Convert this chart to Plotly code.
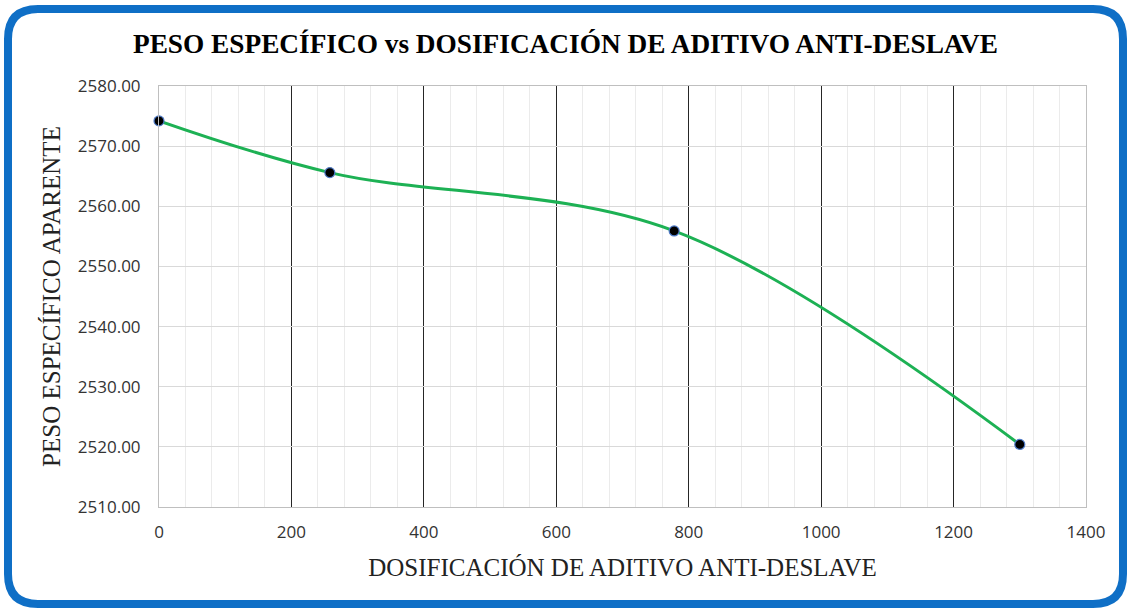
import plotly.graph_objects as go

# Dosificación de aditivo anti-deslave vs peso específico aparente
dosificacion = [0, 258, 778, 1300]
peso_especifico = [2574.2, 2565.6, 2555.9, 2520.4]

x_ticks = [0, 200, 400, 600, 800, 1000, 1200, 1400]
y_ticks = [2510, 2520, 2530, 2540, 2550, 2560, 2570, 2580]

W, H = 1131, 610
ML, MR, MT, MB = 159, 45, 86, 103
PW, PH = W - ML - MR, H - MT - MB


def px_to_paper(x, y):
    return (x - ML) / PW, (H - MB - y) / PH


def rounded_rect_path(x0, y0, x1, y1, r):
    pts = []

    def P(x, y):
        px, py = px_to_paper(x, y)
        return f"{px:.5f},{py:.5f}"

    pts.append(f"M{P(x0 + r, y0)}")
    pts.append(f"L{P(x1 - r, y0)}")
    pts.append(f"Q{P(x1, y0)} {P(x1, y0 + r)}")
    pts.append(f"L{P(x1, y1 - r)}")
    pts.append(f"Q{P(x1, y1)} {P(x1 - r, y1)}")
    pts.append(f"L{P(x0 + r, y1)}")
    pts.append(f"Q{P(x0, y1)} {P(x0, y1 - r)}")
    pts.append(f"L{P(x0, y0 + r)}")
    pts.append(f"Q{P(x0, y0)} {P(x0 + r, y0)}")
    pts.append("Z")
    return " ".join(pts)


fig = go.Figure()
fig.add_trace(go.Scatter(
    x=dosificacion,
    y=peso_especifico,
    mode="lines+markers",
    line=dict(color="#1DB154", width=3, shape="spline", smoothing=1.0),
    marker=dict(color="#000000", size=10, line=dict(color="#4F7BC8", width=1.2)),
    showlegend=False,
    cliponaxis=False,
))

serif = "Liberation Serif, Times New Roman, serif"
sans = "Open Sans, Liberation Sans, sans-serif"

fig.update_layout(
    width=W, height=H,
    margin=dict(l=ML, r=MR, t=MT, b=MB),
    paper_bgcolor="white",
    plot_bgcolor="white",
    title=dict(
        text="<b>PESO ESPECÍFICO vs DOSIFICACIÓN DE ADITIVO ANTI-DESLAVE</b>",
        font=dict(family=serif, size=27.3, color="#000000"),
        x=0.5, xref="container", xanchor="center",
        y=1 - 43 / H, yref="container", yanchor="middle",
    ),
    xaxis=dict(
        range=[0, 1400],
        tickvals=x_ticks,
        ticktext=[str(v) for v in x_ticks],
        showgrid=True, gridcolor="#262626", gridwidth=1,
        minor=dict(dtick=40, showgrid=True, gridcolor="#EBEBEB", gridwidth=1),
        showline=True, linecolor="#BFBFBF", linewidth=1, mirror=True,
        zeroline=False,
        ticks="", ticklabelstandoff=10,
        tickfont=dict(family=sans, size=17, color="#333333"),
        title=dict(text="DOSIFICACIÓN DE ADITIVO ANTI-DESLAVE",
                   font=dict(family=serif, size=25, color="#222222"),
                   standoff=16),
    ),
    yaxis=dict(
        range=[2510, 2580],
        tickvals=y_ticks,
        ticktext=[f"{v:.2f}" for v in y_ticks],
        showgrid=True, gridcolor="#D9D9D9", gridwidth=1,
        showline=True, linecolor="#BFBFBF", linewidth=1, mirror=True,
        zeroline=False,
        ticks="", ticklabelstandoff=14,
        tickfont=dict(family=sans, size=17, color="#333333"),
        title=dict(text="PESO ESPECÍFICO APARENTE",
                   font=dict(family=serif, size=25, color="#222222"),
                   standoff=10),
    ),
    shapes=[dict(
        type="path",
        xref="paper", yref="paper",
        path=rounded_rect_path(8, 9, 1123, 604, 30),
        line=dict(color="#0F6FC6", width=8),
        fillcolor="rgba(0,0,0,0)",
        layer="above",
    )],
)

fig.write_html("out.html")
